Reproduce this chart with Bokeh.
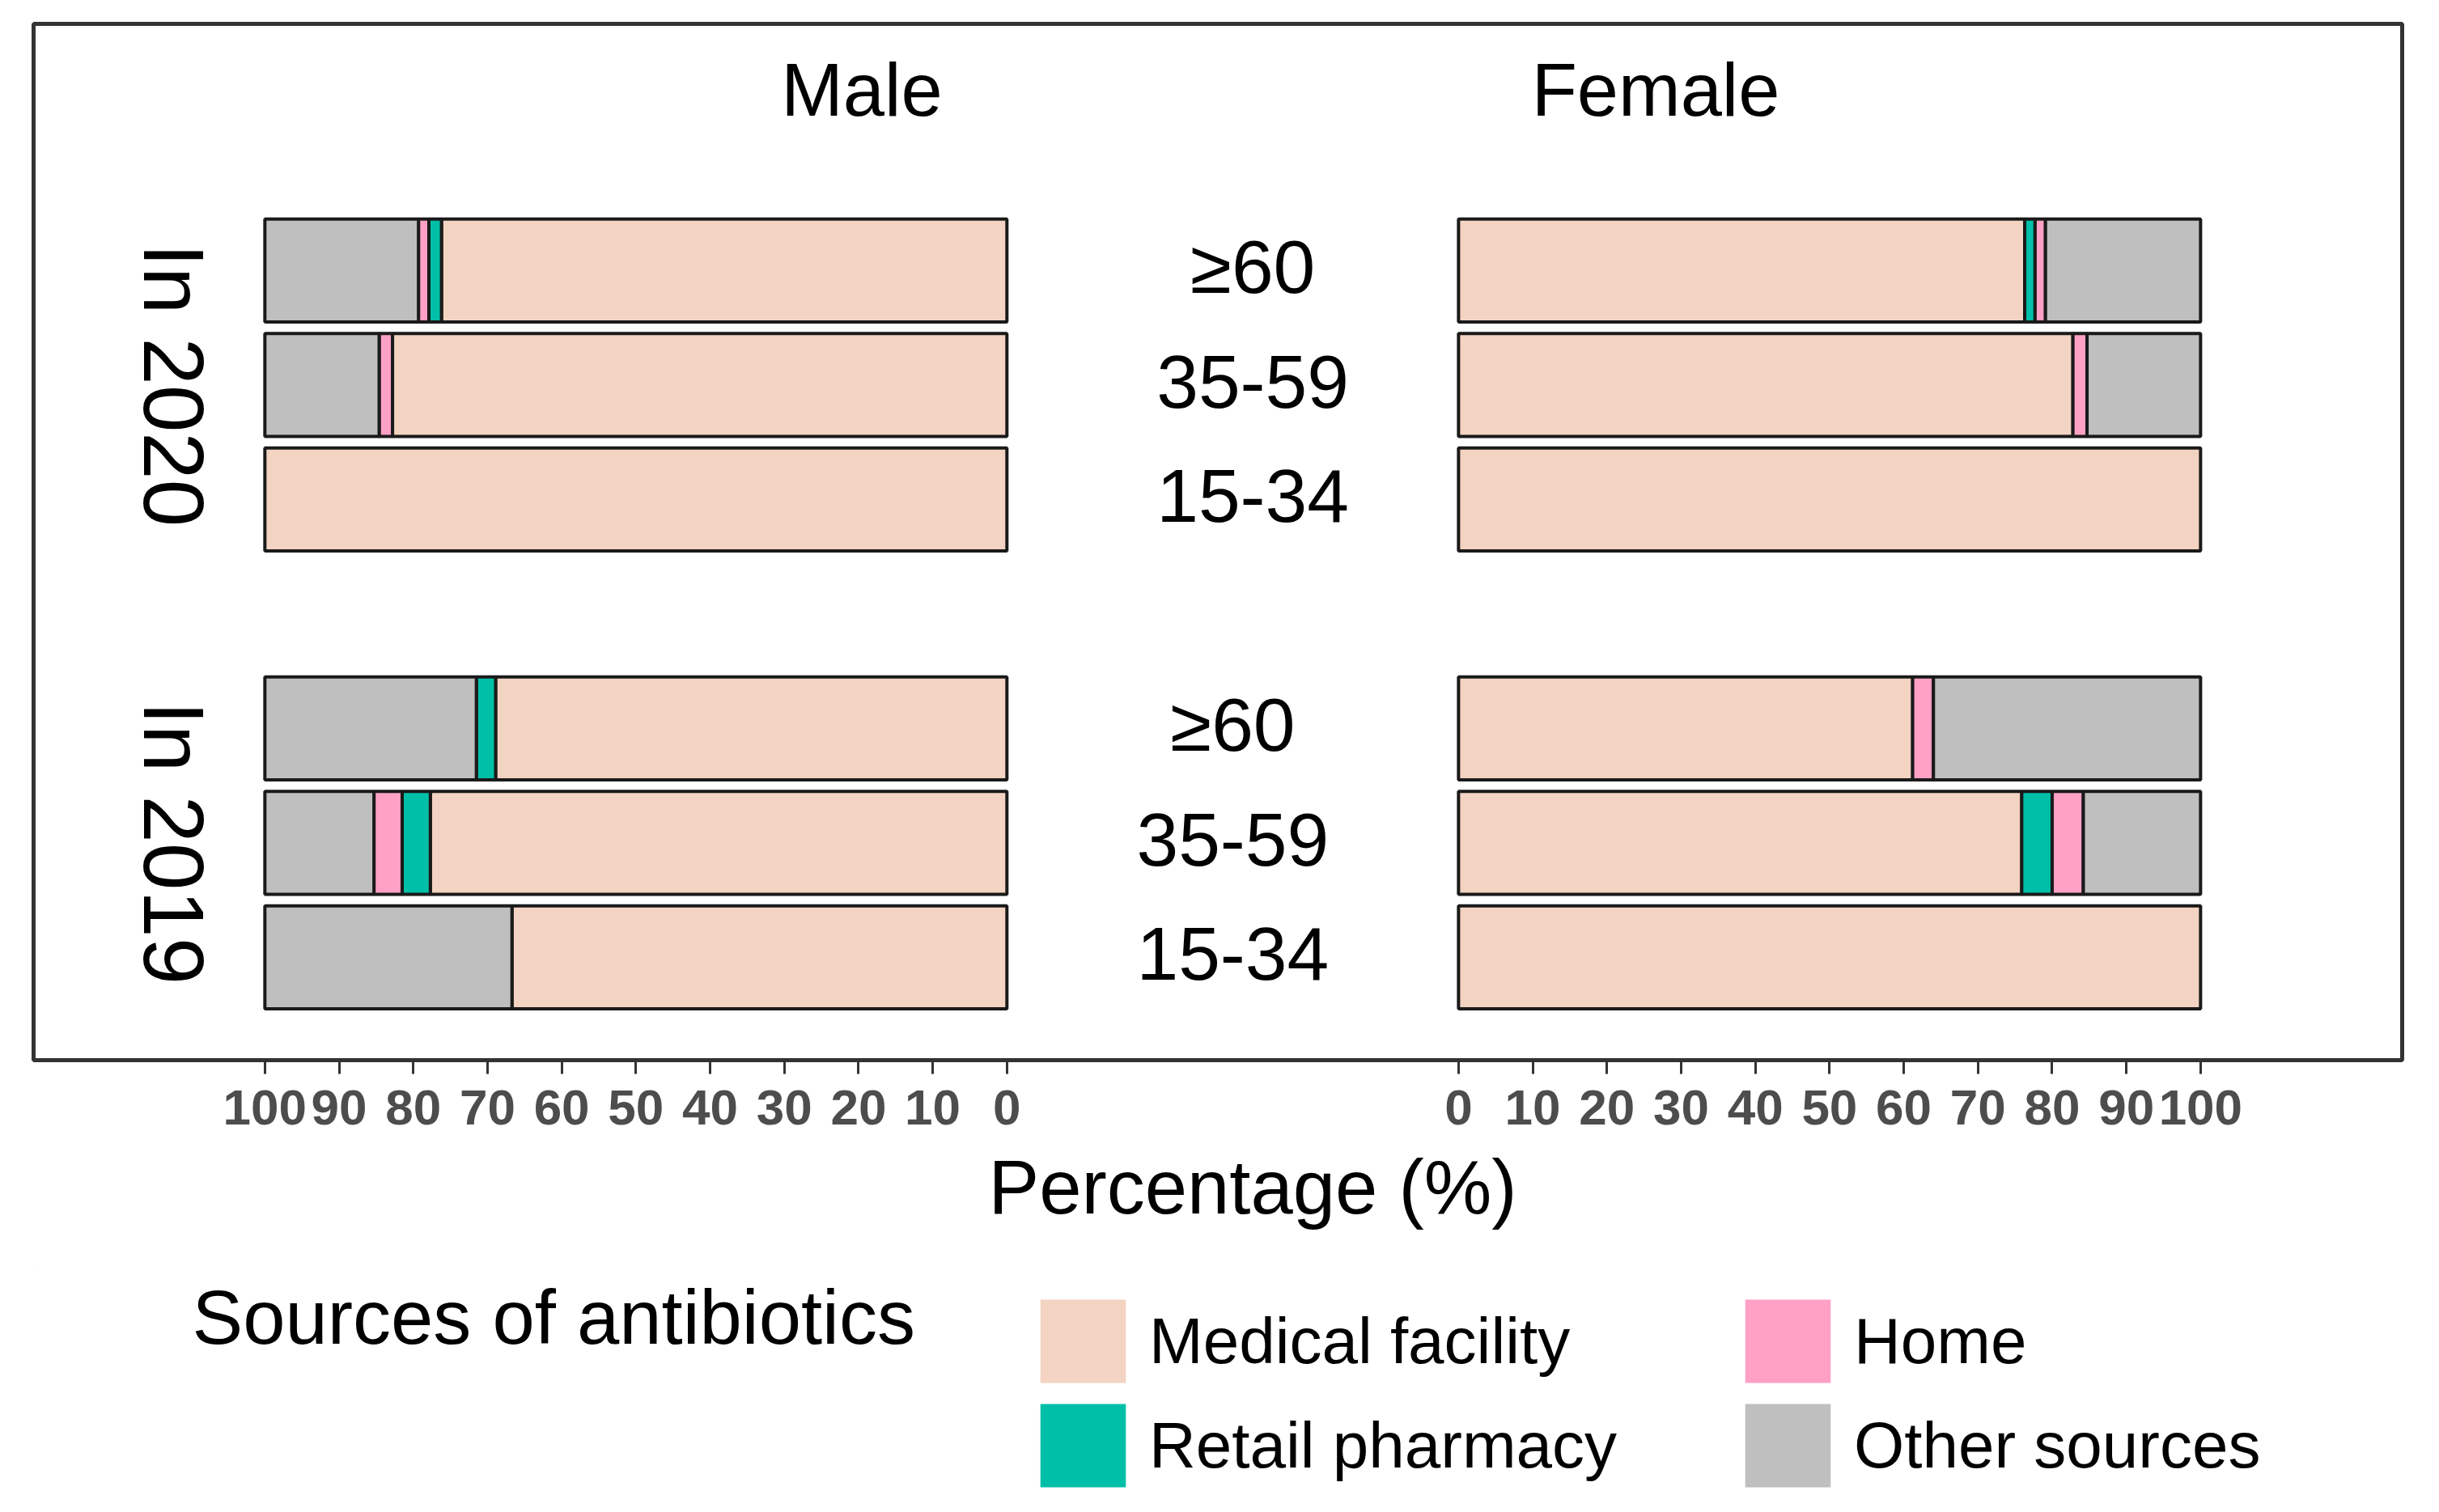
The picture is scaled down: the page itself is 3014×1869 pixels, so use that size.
import math
from bokeh.plotting import figure
from bokeh.layouts import column
from bokeh.models import (Range1d, FixedTicker, CustomJSTickFormatter, Legend,
                          LegendItem, Label, Title)
from bokeh.core.properties import value
from bokeh.embed import file_html
from bokeh.resources import INLINE

# ---------------- data ----------------
sources = ["Medical facility", "Retail pharmacy", "Home", "Other sources"]
source_colors = ["#F3D3C1", "#00BFA8", "#FFA0C5", "#BFBFBF"]
ages = ["≥60", "35-59", "15-34"]
years = ["In 2020", "In 2019"]
sexes = ["Male", "Female"]
tick_values = [0, 10, 20, 30, 40, 50, 60, 70, 80, 90, 100]
x_label = "Percentage (%)"
legend_title = "Sources of antibiotics"

# values per age group (≥60, 35-59, 15-34), in %
male_2020_medical = [76.2, 82.8, 100.0]
male_2020_retail = [1.7, 0.0, 0.0]
male_2020_home = [1.4, 1.8, 0.0]
male_2020_other = [20.7, 15.4, 0.0]

female_2020_medical = [76.3, 82.8, 100.0]
female_2020_retail = [1.4, 0.0, 0.0]
female_2020_home = [1.4, 1.9, 0.0]
female_2020_other = [20.9, 15.3, 0.0]

male_2019_medical = [68.9, 77.7, 66.7]
male_2019_retail = [2.6, 3.8, 0.0]
male_2019_home = [0.0, 3.8, 0.0]
male_2019_other = [28.5, 14.7, 33.3]

female_2019_medical = [61.2, 75.9, 100.0]
female_2019_retail = [0.0, 4.1, 0.0]
female_2019_home = [2.8, 4.2, 0.0]
female_2019_other = [36.0, 15.8, 0.0]

table = {
    ("Male", "In 2020"): [male_2020_medical, male_2020_retail, male_2020_home, male_2020_other],
    ("Female", "In 2020"): [female_2020_medical, female_2020_retail, female_2020_home, female_2020_other],
    ("Male", "In 2019"): [male_2019_medical, male_2019_retail, male_2019_home, male_2019_other],
    ("Female", "In 2019"): [female_2019_medical, female_2019_retail, female_2019_home, female_2019_other],
}

# ---------------- layout constants ----------------
FONT = "Liberation Sans"
G = 30.43          # half gap between the two panels (in % units)
BAR_H = 0.9
W = 2998
MAIN_H = 1570
LEG_H = 283
BL, BR, BT = 41, 30, 29
FRAME_H = 1281

def row_pos(gi, ai):
    return gi * (len(ages) + 1) + ai

p = figure(width=W, height=MAIN_H, output_backend="svg", toolbar_location=None,
           x_range=Range1d(-161.6, 157.6), y_range=Range1d(6.898, -2.155),
           min_border_left=BL, min_border_right=BR, min_border_top=BT,
           min_border_bottom=MAIN_H - BT - FRAME_H, y_axis_location=None)
p.background_fill_color = "white"
p.border_fill_color = "white"
p.outline_line_color = "#333333"
p.outline_line_width = 5
p.xgrid.visible = False
p.ygrid.visible = False

# ---------------- stacked bars ----------------
for si, (sname, scol) in enumerate(zip(sources, source_colors)):
    ys, lefts, rights = [], [], []
    for gi, yr in enumerate(years):
        for sex in sexes:
            vals = table[(sex, yr)]
            for ai in range(len(ages)):
                start = sum(vals[k][ai] for k in range(si))
                v = vals[si][ai]
                if v <= 0:
                    continue
                if sex == "Male":
                    l, r = -(G + start + v), -(G + start)
                else:
                    l, r = G + start, G + start + v
                ys.append(row_pos(gi, ai))
                lefts.append(l)
                rights.append(r)
    p.hbar(y=ys, left=lefts, right=rights, height=BAR_H, fill_color=scol,
           line_color="#1a1a1a", line_width=4)

# ---------------- texts inside panel ----------------
age_shift = [2.7, 0.0]
tx, ty, tt = [], [], []
for gi, yr in enumerate(years):
    for ai, a in enumerate(ages):
        tx.append(age_shift[gi])
        ty.append(row_pos(gi, ai) - 0.03)
        tt.append(a)
p.text(x=tx, y=ty, text=tt, text_font=value(FONT), text_font_size="93px",
       text_align="center", text_baseline="middle", text_color="black")

p.text(x=[-50.0, 57.0], y=[-1.58, -1.58], text=sexes, text_font=value(FONT),
       text_font_size="92px", text_align="center", text_baseline="middle",
       text_color="black")

yx = [-142.7] * len(years)
yy = [row_pos(gi, 1) for gi in range(len(years))]
p.text(x=yx, y=yy, text=years, angle=-math.pi / 2, text_font=value(FONT),
       text_font_size="105px", text_align="center", text_baseline="middle",
       text_color="black")

# ---------------- axis ----------------
ticks = [-(G + t) for t in tick_values] + [G + t for t in tick_values]
ax = p.xaxis[0]
ax.ticker = FixedTicker(ticks=ticks)
ax.formatter = CustomJSTickFormatter(args=dict(g=G),
                                     code="return String(Math.round(Math.abs(tick) - g));")
ax.axis_line_color = None
ax.major_tick_in = 0
ax.major_tick_out = 17
ax.major_tick_line_width = 3
ax.major_tick_line_color = "#333333"
ax.minor_tick_line_color = None
ax.major_label_text_font = FONT
ax.major_label_text_font_style = "bold"
ax.major_label_text_font_size = "62px"
ax.major_label_text_color = "#4D4D4D"
ax.major_label_standoff = 20

p.add_layout(Title(text=x_label, align="left", offset=1180, standoff=40,
                   text_font=FONT, text_font_size="94px",
                   text_font_style="normal", text_color="black"), "below")

# ---------------- legend (separate strip below) ----------------
lg = figure(width=W, height=LEG_H, output_backend="svg", toolbar_location=None,
            x_range=Range1d(BL, W - BR), y_range=Range1d(LEG_H, 0),
            min_border_left=BL, min_border_right=BR, min_border_top=0,
            min_border_bottom=0, x_axis_location=None, y_axis_location=None)
lg.outline_line_color = None
lg.xgrid.visible = False
lg.ygrid.visible = False
lg.background_fill_color = "white"
lg.border_fill_color = "white"

# legend key renderers: one swatch each, kept outside the visible strip
items = []
for sname, scol in zip(sources, source_colors):
    r = lg.hbar(y=[-1000], left=[0], right=[1], height=1, fill_color=scol,
                line_color=None)
    items.append(LegendItem(label=sname, renderers=[r]))
leg = Legend(items=items, orientation="vertical", nrows=2,
             location=(1272 - BL, 2), glyph_width=132, glyph_height=129,
             label_standoff=16, label_width=723, spacing=0, padding=0, margin=0,
             label_text_font=FONT, label_text_font_size="80px",
             label_text_color="black", border_line_color=None,
             background_fill_alpha=0)
lg.add_layout(leg, "center")

lg.add_layout(Label(x=237, y=58, text=legend_title, text_font=FONT,
                    text_font_size="94px", text_align="left",
                    text_baseline="middle", text_color="black"))

layout = column(p, lg, spacing=0)
open("out.html", "w").write(file_html(layout, INLINE))
